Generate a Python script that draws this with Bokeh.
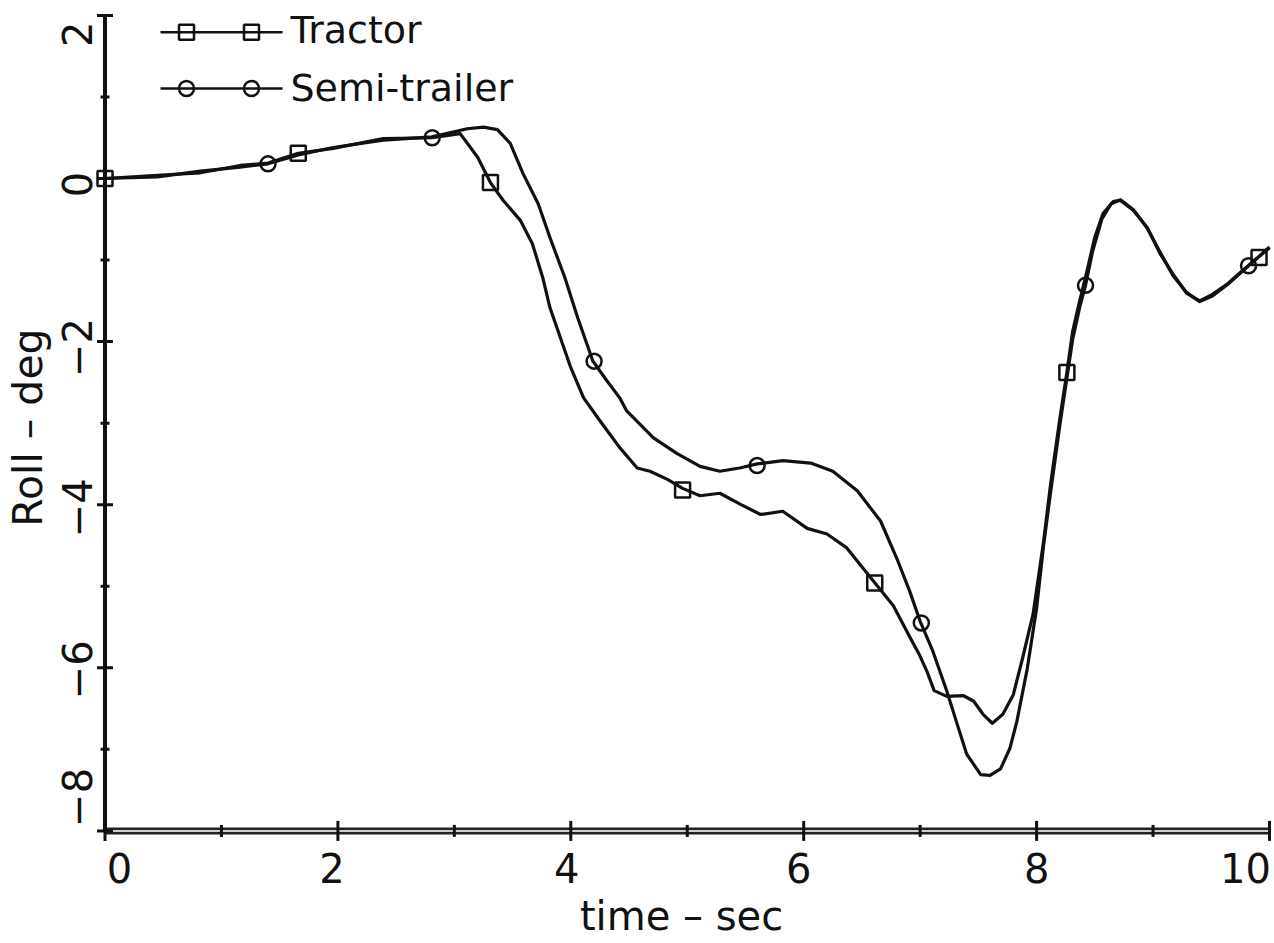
from bokeh.plotting import figure
from bokeh.models import Range1d
from bokeh.core.properties import value
from bokeh.embed import file_html
from bokeh.resources import INLINE
import math

# ---------------- data ----------------
tractor_t = [0.00, 0.45, 0.82, 1.16, 1.40, 1.66, 1.96, 2.39, 2.81, 3.05, 3.20, 3.31,
             3.42, 3.57, 3.67, 3.76, 3.82, 3.91, 4.00, 4.11, 4.25, 4.42, 4.57, 4.68,
             4.83, 4.96, 5.11, 5.28, 5.45, 5.63, 5.82, 6.03, 6.20, 6.37, 6.51, 6.60,
             6.77, 6.91, 6.99, 7.06, 7.12, 7.23, 7.37, 7.46, 7.54, 7.62, 7.71, 7.80,
             7.88, 7.97, 8.06, 8.12, 8.20, 8.26, 8.31, 8.37, 8.43, 8.50, 8.57, 8.66,
             8.72, 8.83, 8.95, 9.06, 9.17, 9.29, 9.40, 9.51, 9.64, 9.81, 9.89, 10.00]
tractor_roll = [0.00, 0.04, 0.07, 0.16, 0.19, 0.31, 0.37, 0.49, 0.50, 0.55, 0.26, -0.05,
                -0.27, -0.52, -0.80, -1.22, -1.58, -1.95, -2.32, -2.69, -2.97, -3.30, -3.55, -3.59,
                -3.69, -3.80, -3.89, -3.86, -3.99, -4.12, -4.08, -4.29, -4.36, -4.53, -4.78, -4.94,
                -5.24, -5.62, -5.83, -6.05, -6.28, -6.35, -6.34, -6.41, -6.57, -6.68, -6.57, -6.33,
                -5.88, -5.34, -4.45, -3.75, -2.94, -2.38, -1.87, -1.50, -1.15, -0.72, -0.43, -0.28,
                -0.27, -0.39, -0.60, -0.92, -1.17, -1.41, -1.50, -1.42, -1.29, -1.08, -0.98, -0.85]

semi_t = [0.00, 0.45, 0.82, 1.16, 1.40, 1.66, 1.96, 2.39, 2.81, 3.11, 3.25, 3.37,
          3.48, 3.59, 3.72, 3.82, 3.95, 4.06, 4.19, 4.31, 4.42, 4.48, 4.71, 4.91,
          5.11, 5.28, 5.45, 5.60, 5.82, 6.06, 6.25, 6.46, 6.66, 6.80, 6.91, 7.00,
          7.11, 7.23, 7.32, 7.40, 7.52, 7.60, 7.69, 7.77, 7.83, 7.92, 8.00, 8.06,
          8.12, 8.20, 8.26, 8.31, 8.37, 8.42, 8.48, 8.56, 8.64, 8.72, 8.83, 8.95,
          9.06, 9.17, 9.29, 9.40, 9.51, 9.64, 9.82, 9.90, 10.00]
semi_roll = [0.00, 0.02, 0.09, 0.14, 0.18, 0.29, 0.38, 0.47, 0.51, 0.61, 0.63, 0.60,
             0.43, 0.06, -0.31, -0.72, -1.22, -1.71, -2.24, -2.48, -2.69, -2.85, -3.18, -3.37,
             -3.53, -3.59, -3.55, -3.50, -3.46, -3.49, -3.59, -3.83, -4.20, -4.66, -5.06, -5.43,
             -5.80, -6.29, -6.70, -7.06, -7.31, -7.32, -7.24, -6.99, -6.66, -6.01, -5.27, -4.50,
             -3.85, -3.02, -2.45, -1.97, -1.58, -1.31, -0.90, -0.50, -0.31, -0.26, -0.38, -0.61,
             -0.90, -1.19, -1.40, -1.51, -1.44, -1.30, -1.07, -0.97, -0.84]

tractor_marker_t = [0.00, 1.66, 3.31, 4.96, 6.61, 8.26, 9.91]
tractor_marker_roll = [0.00, 0.31, -0.05, -3.82, -4.96, -2.38, -0.97]
semi_marker_t = [1.40, 2.81, 4.20, 5.60, 7.01, 8.42, 9.82]
semi_marker_roll = [0.18, 0.50, -2.24, -3.52, -5.45, -1.31, -1.07]

series_names = ["Tractor", "Semi-trailer"]
x_ticks = [0, 2, 4, 6, 8, 10]
x_minor = [1, 3, 5, 7, 9]
x_tick_labels = ["0", "2", "4", "6", "8", "10"]
y_ticks = [-8, -6, -4, -2, 0, 2]
y_minor = [-7, -5, -3, -1, 1]
y_tick_labels = ["\u22128", "\u22126", "\u22124", "\u22122", "0", "2"]
x_title = "time \u2013 sec"
y_title = "Roll \u2013 deg"

# ---------------- layout (pixels) ----------------
W, H = 1274, 943
X0_PX, PX_PER_T = 104.5, 116.45     # screen x of t = 0, pixels per second
Y0_PX, PX_PER_V = 178.0, 81.55      # screen y of roll = 0, pixels per degree

# per-label pixel nudges (label centres), as the plotter placed them
x_label_dx = [14.5, -6, -4, -5, 0, -24]
x_label_dy = 37
y_label_dx = -28
y_label_dy = [-33.5, 2, 3, 6, 6, 19]

FONT = "DejaVu Sans"
INK = "#111111"


def px_x(px):
    return (px - X0_PX) / PX_PER_T


def px_y(py):
    return (Y0_PX - py) / PX_PER_V


p = figure(width=W, height=H, output_backend="svg", toolbar_location=None,
           x_range=Range1d(px_x(0), px_x(W)), y_range=Range1d(px_y(H), px_y(0)),
           x_axis_location=None, y_axis_location=None, min_border=0)
p.background_fill_color = "white"
p.border_fill_color = "white"
p.outline_line_color = None
p.grid.visible = False

x_axis_y = y_ticks[0]
y_axis_x = x_ticks[0]

# ---- axes: double x-axis line, y-axis line, crossing ticks ----
p.line(x=[x_ticks[0], x_ticks[-1]], y=[x_axis_y, x_axis_y], line_width=7, line_color="#222222")
p.line(x=[x_ticks[0], x_ticks[-1]], y=[x_axis_y, x_axis_y], line_width=2, line_color="#cfcfcf")
p.line(x=[y_axis_x, y_axis_x], y=[y_ticks[0], y_ticks[-1]], line_width=4, line_color=INK)

p.scatter(x=x_ticks, y=[x_axis_y] * len(x_ticks), marker="dash", angle=math.pi / 2,
          size=20, line_width=3, line_color=INK)
p.scatter(x=x_minor, y=[x_axis_y] * len(x_minor), marker="dash", angle=math.pi / 2,
          size=12, line_width=3, line_color=INK)
p.scatter(x=[y_axis_x] * len(y_ticks), y=y_ticks, marker="dash",
          size=16, line_width=3, line_color=INK)
p.scatter(x=[y_axis_x] * len(y_minor), y=y_minor, marker="dash",
          size=9, line_width=3, line_color=INK)

# tick labels
p.text(x=x_ticks, y=[x_axis_y] * len(x_ticks), text=x_tick_labels,
       x_offset=x_label_dx, y_offset=x_label_dy,
       text_font=value(FONT), text_font_size="40px", text_color=INK,
       text_align="center", text_baseline="middle")
p.text(x=[y_axis_x] * len(y_ticks), y=y_ticks, text=y_tick_labels,
       x_offset=y_label_dx, y_offset=y_label_dy, angle=math.pi / 2,
       text_font=value(FONT), text_font_size="40px", text_color=INK,
       text_align="center", text_baseline="middle")

# axis titles
p.text(x=[(x_ticks[0] + x_ticks[-1]) / 2], y=[x_axis_y], text=[x_title],
       x_offset=-5.75, y_offset=85,
       text_font=value(FONT), text_font_size="40px", text_color=INK,
       text_align="center", text_baseline="middle")
p.text(x=[y_axis_x], y=[-3], text=[y_title], x_offset=-77.5, y_offset=4.4,
       angle=math.pi / 2,
       text_font=value(FONT), text_font_size="41px", text_color=INK,
       text_align="center", text_baseline="middle")

# ---- curves ----
p.line(tractor_t, tractor_roll, line_width=3.2, line_color=INK, line_join="round")
p.line(semi_t, semi_roll, line_width=3.2, line_color=INK, line_join="round")
p.scatter(tractor_marker_t, tractor_marker_roll, marker="square", size=15,
          fill_alpha=0, line_color=INK, line_width=2.5)
p.scatter(semi_marker_t, semi_marker_roll, marker="circle", size=15,
          fill_alpha=0, line_color=INK, line_width=2.5)

# ---- legend (two markers on each sample line, like the original) ----
leg_line_px = (160, 282)
leg_mark_px = [186, 251]
leg_row_px = [31.7, 88.0]
leg_text_px = 290
leg_mid_px = [29.0, 87.5]
for name, marker, ry, my in zip(series_names, ["square", "circle"], leg_row_px, leg_mid_px):
    p.line(x=[px_x(leg_line_px[0]), px_x(leg_line_px[1])], y=[px_y(ry), px_y(ry)],
           line_width=2.5, line_color=INK)
    p.scatter([px_x(m) for m in leg_mark_px], [px_y(ry)] * 2, marker=marker, size=15,
              fill_alpha=0, line_color=INK, line_width=2.5)
    p.text(x=[px_x(leg_text_px)], y=[px_y(my)], text=[name], text_font=value(FONT),
           text_font_size="38px", text_color=INK, text_baseline="middle",
           text_align="left")

open("out.html", "w").write(file_html(p, INLINE))
